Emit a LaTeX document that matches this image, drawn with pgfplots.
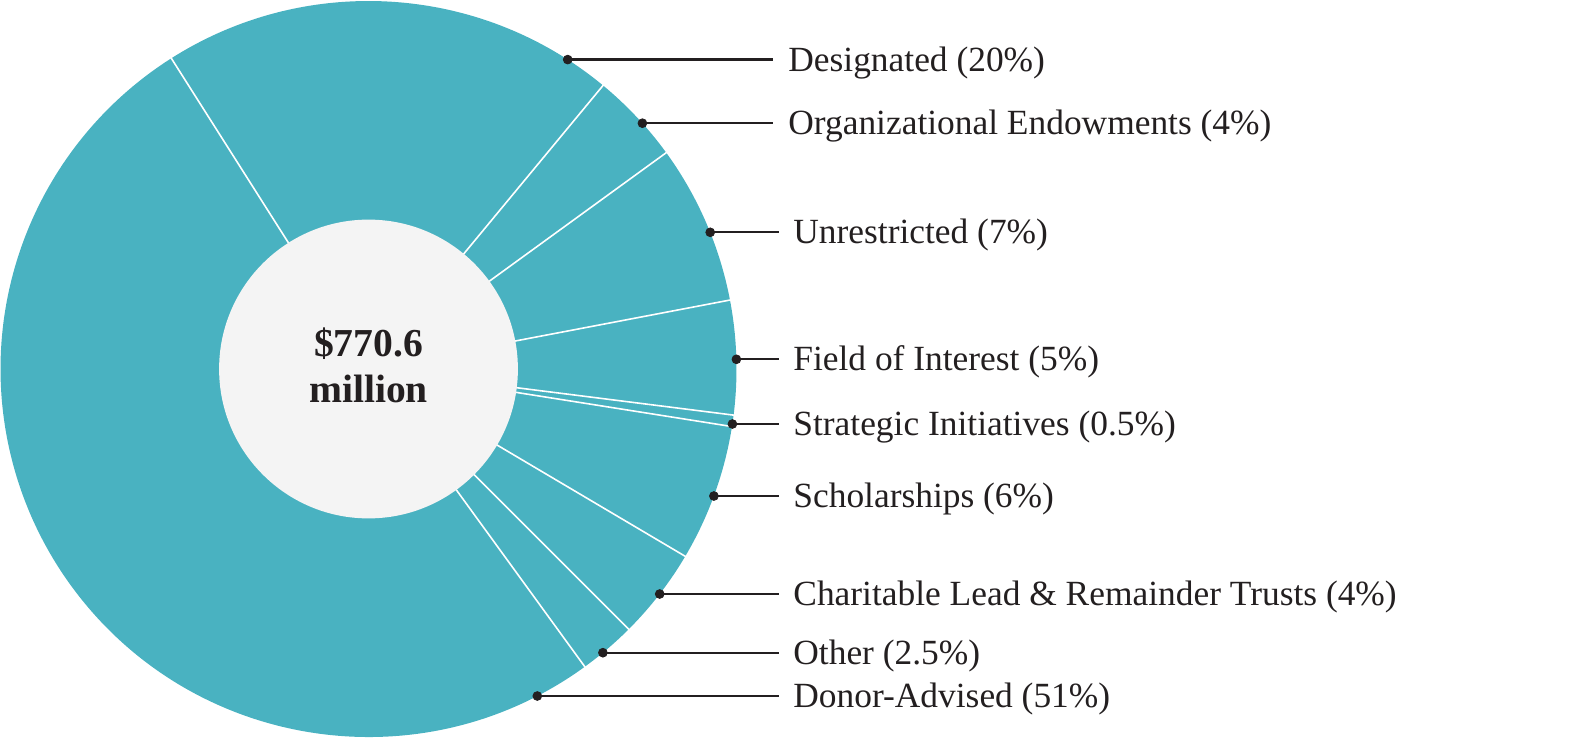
\documentclass[border=0pt]{standalone}
\usepackage{fontspec}
\setmainfont{Liberation Serif}
\usepackage{pgfplots}
\usepackage{pgfplotstable}
\pgfplotsset{compat=1.18}
\definecolor{slice}{HTML}{49B2C1}
\definecolor{ink}{HTML}{231F20}
\definecolor{hole}{HTML}{F4F4F4}
\tikzset{
  wedge/.style={fill=slice, draw=none, overlay},
  sep/.style={draw=white, line width=0.8pt, overlay},
}

% value = share in %; ly = label line height; dx = dot x; lx = line end x; tx = text x
% (axis units: 1 unit = 1 px of the reference, donut centre at 0,0)
\pgfplotstableread[col sep=comma]{
label,value,ly,dx,lx,tx
Designated (20\%),20,309.4,199.2,404.5,419.5
Organizational Endowments (4\%),4,245.8,273.9,404.5,419.5
Unrestricted (7\%),7,136.7,341.7,410.5,424.5
Field of Interest (5\%),5,9.7,367.9,410.5,424.5
Strategic Initiatives (0.5\%),0.5,-55,363.9,410.5,424.5
Scholarships (6\%),6,-127,345.4,410.5,424.5
Charitable Lead \& Remainder Trusts (4\%),4,-225,291.2,410.5,424.5
Other (2.5\%),2.5,-283.7,234.4,410.5,424.5
Donor-Advised (51\%),51,-327,168.8,410.5,424.5
}\slices

\begin{document}
\begin{tikzpicture}
\begin{axis}[
  scale only axis, width=792pt, height=375.5pt,
  xmin=-368.5, xmax=1215.5, ymin=-382, ymax=369,
  hide axis, clip=false,
]
\path (rel axis cs:0,0) rectangle (rel axis cs:1,1);
\pgfplotstablegetrowsof{\slices}
\pgfmathtruncatemacro\nrows{\pgfplotsretval-1}
\def\cum{122.4}
\pgfplotsforeachungrouped \i in {0,...,\nrows}{%
  \pgfplotstablegetelem{\i}{value}\of\slices
  \pgfmathsetmacro\aA{\cum}%
  \pgfmathsetmacro\aB{\cum-3.6*\pgfplotsretval}%
  \edef\doit{\noexpand\fill[wedge] (axis cs:0,0) -- ++(\aA:184pt) arc[start angle=\aA, end angle=\aB, radius=184pt] -- cycle;}%
  \doit
  \global\let\cum\aB
}
\def\cum{122.4}
\pgfplotsforeachungrouped \i in {0,...,\nrows}{%
  \pgfplotstablegetelem{\i}{value}\of\slices
  \pgfmathsetmacro\aB{\cum-3.6*\pgfplotsretval}%
  \edef\doit{\noexpand\draw[sep] (axis cs:0,0) -- ++(\aB:185pt);}%
  \doit
  \global\let\cum\aB
}
\fill[hole, overlay] (axis cs:0,0) circle[radius=74.7pt];
\node[anchor=base, inner sep=0pt, text=ink, font=\fontsize{19.8}{23}\selectfont\bfseries] at (axis cs:0,13) {\$770.6};
\node[anchor=base, inner sep=0pt, text=ink, font=\fontsize{19.8}{23}\selectfont\bfseries] at (axis cs:0,-33.3) {million};

\addplot[only marks, mark=*, mark size=2.2pt, color=ink,
  error bars/.cd, x dir=plus, x explicit, error mark=none,
  error bar style={line width=1.15pt, color=ink}]
  table[x=dx, y=ly, x error expr=\thisrow{lx}-\thisrow{dx}] {\slices};

\addplot[only marks, mark=none, nodes near coords, point meta=explicit symbolic,
  nodes near coords style={anchor=base west, inner sep=0pt, yshift=-5.8pt, text=ink,
    font=\fontsize{17.7}{21}\selectfont}]
  table[x=tx, y=ly, meta=label] {\slices};
\end{axis}
\end{tikzpicture}
\end{document}
